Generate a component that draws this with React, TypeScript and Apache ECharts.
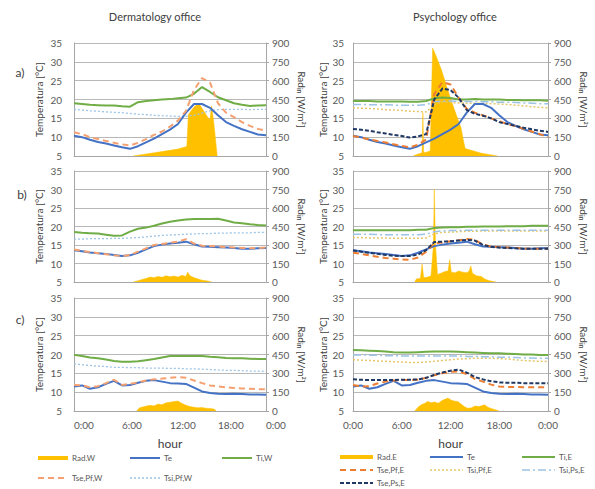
import React, { useEffect, useRef } from 'react';
import * as echarts from 'echarts';

// ---------- data ----------
const hours = [0, 1, 2, 3, 4, 5, 6, 7, 8, 9, 10, 11, 12, 13, 14, 15, 16, 17, 18, 19, 20, 21, 22, 23, 24];
const xTicks = ['0:00', '6:00', '12:00', '18:00', '0:00'];

// exterior temperature per row (same day for both offices)
const teA = [10.4, 10.0, 9.3, 8.7, 8.3, 7.8, 7.3, 6.9, 7.6, 8.6, 9.6, 10.8, 12.0, 13.5, 16.5, 18.8, 18.8, 17.8, 15.8, 14.0, 13.0, 12.1, 11.4, 10.7, 10.5];
const teB = [13.6, 13.3, 13.0, 12.8, 12.6, 12.3, 12.0, 12.2, 12.9, 13.8, 14.7, 15.1, 15.4, 15.6, 15.9, 15.2, 14.6, 14.5, 14.4, 14.3, 14.2, 14.0, 14.0, 14.1, 14.2];
const teC = [11.5, 11.8, 10.9, 11.3, 12.2, 13.0, 11.8, 11.9, 12.5, 13.0, 13.2, 12.8, 12.4, 12.3, 12.2, 11.2, 10.2, 9.8, 9.6, 9.5, 9.6, 9.5, 9.4, 9.4, 9.3];

// Dermatology office (W)
const tiWA = [19.0, 18.8, 18.6, 18.5, 18.4, 18.4, 18.2, 18.1, 19.3, 19.6, 19.8, 20.0, 20.1, 20.3, 20.5, 21.5, 23.3, 22.0, 20.6, 19.8, 19.0, 18.6, 18.3, 18.4, 18.5];
const tsePfWA = [11.3, 10.8, 10.0, 9.5, 9.0, 8.5, 8.1, 7.8, 8.5, 9.5, 10.6, 11.5, 12.8, 14.4, 17.0, 22.5, 25.7, 24.5, 19.0, 16.5, 15.3, 14.0, 13.0, 12.2, 11.7];
const tsiPfWA = [17.4, 17.2, 17.0, 16.9, 16.7, 16.6, 16.5, 16.3, 16.1, 16.0, 15.8, 15.7, 15.6, 15.5, 15.5, 15.8, 16.4, 17.0, 17.3, 17.4, 17.4, 17.4, 17.3, 17.4, 17.4];
const radWAHours = [7.4, 9, 11, 13, 14.1, 14.3, 15.0, 15.6, 16.2, 16.8, 17.0, 17.2, 17.5, 17.9];
const radWA = [0, 15, 35, 55, 76, 330, 390, 420, 360, 300, 290, 400, 250, 0];

const tiWB = [18.5, 18.3, 18.2, 18.1, 17.8, 17.5, 17.6, 18.6, 19.4, 19.7, 20.2, 20.8, 21.3, 21.6, 21.9, 22.0, 22.0, 22.0, 22.1, 21.6, 21.1, 20.9, 20.6, 20.4, 20.3];
const tsePfWB = [13.8, 13.4, 13.1, 12.8, 12.5, 12.2, 12.0, 12.3, 13.2, 14.1, 15.0, 15.3, 15.6, 15.9, 16.6, 15.4, 14.8, 14.7, 14.6, 14.4, 14.3, 14.2, 14.1, 14.2, 14.3];
const tsiPfWB = [16.6, 16.6, 16.7, 16.7, 16.7, 16.8, 16.8, 16.9, 17.0, 17.2, 17.4, 17.6, 17.7, 17.8, 17.9, 18.0, 18.1, 18.1, 18.2, 18.2, 18.3, 18.3, 18.3, 18.4, 18.4];
const radWBHours = [7.4, 8, 8.5, 9, 9.5, 10, 10.5, 11, 11.5, 12, 12.5, 13, 13.5, 14, 14.2, 14.5, 15, 15.5, 16, 16.5, 17, 17.2];
const radWB = [0, 10, 20, 28, 40, 35, 45, 38, 50, 42, 48, 40, 55, 45, 80, 50, 35, 25, 15, 10, 5, 0];

const tiWC = [19.9, 19.6, 19.2, 19.0, 18.7, 18.3, 18.1, 18.1, 18.2, 18.5, 18.8, 19.2, 19.6, 19.6, 19.6, 19.6, 19.6, 19.4, 19.3, 19.1, 19.0, 19.0, 18.9, 18.8, 18.8];
const tsePfWC = [11.9, 11.8, 11.3, 11.6, 12.4, 13.3, 11.9, 12.2, 12.6, 13.1, 13.4, 13.6, 13.8, 14.0, 13.8, 13.1, 12.4, 11.8, 11.5, 11.3, 11.1, 11.0, 10.9, 10.8, 10.8];
const tsiPfWC = [17.5, 17.3, 17.1, 16.9, 16.8, 16.6, 16.6, 16.5, 16.5, 16.4, 16.4, 16.4, 16.3, 16.3, 16.2, 16.2, 16.1, 16.0, 15.9, 15.8, 15.8, 15.7, 15.6, 15.6, 15.5];
const radWCHours = [7.8, 8.2, 8.8, 9.5, 10, 10.5, 11, 11.5, 12, 12.5, 13, 13.5, 14, 14.5, 15, 15.5, 16, 16.5, 17, 17.5, 17.8];
const radWC = [0, 25, 35, 45, 40, 55, 50, 65, 70, 75, 80, 60, 45, 35, 30, 25, 28, 22, 20, 15, 0];

// Psychology office (E)
const tiEA = [19.6, 19.6, 19.6, 19.5, 19.5, 19.5, 19.5, 19.4, 19.4, 19.6, 20.3, 20.5, 20.4, 20.0, 20.0, 20.1, 20.0, 20.0, 20.0, 19.9, 19.9, 19.8, 19.8, 19.8, 19.7];
const tsePfEA = [10.3, 9.9, 9.4, 9.0, 8.6, 8.1, 7.7, 7.3, 8.0, 9.4, 21.5, 24.6, 24.0, 20.5, 17.5, 16.5, 15.8, 15.0, 14.2, 13.5, 12.9, 12.2, 11.5, 10.8, 10.0];
const tsiPfEA = [17.8, 17.7, 17.6, 17.5, 17.3, 17.2, 17.1, 16.9, 16.8, 16.7, 18.6, 19.4, 19.2, 19.1, 19.0, 19.0, 19.0, 18.9, 18.8, 18.7, 18.5, 18.3, 18.1, 17.9, 17.8];
const tsiPsEA = [18.7, 18.7, 18.6, 18.6, 18.6, 18.5, 18.5, 18.5, 18.5, 18.6, 19.4, 19.6, 19.6, 19.5, 19.5, 19.5, 19.4, 19.4, 19.3, 19.3, 19.2, 19.1, 19.0, 18.9, 18.9];
const tsePsEA = [12.2, 12.0, 11.7, 11.3, 11.0, 10.6, 10.3, 9.9, 10.2, 10.8, 20.0, 22.9, 22.5, 20.5, 17.2, 16.2, 15.7, 15.0, 14.0, 13.5, 13.0, 12.5, 12.1, 11.7, 11.4];
const radEAHours = [7.4, 8.0, 8.5, 8.6, 8.7, 9.0, 9.5, 9.8, 10.2, 10.9, 11.5, 12.1, 12.7, 13.3, 13.6, 13.8, 15.8, 17.8];
const radEA = [0, 15, 25, 345, 25, 30, 40, 860, 800, 683, 560, 440, 330, 224, 120, 60, 22, 0];

const tiEB = [19.0, 19.0, 19.0, 19.0, 19.0, 19.0, 19.0, 19.0, 19.1, 19.1, 19.6, 19.7, 19.8, 19.8, 19.9, 19.9, 20.0, 20.0, 20.0, 20.1, 20.1, 20.1, 20.2, 20.2, 20.2];
const tsePfEB = [12.9, 12.6, 12.2, 11.8, 11.5, 11.3, 11.1, 11.0, 11.6, 13.2, 15.5, 15.7, 16.0, 16.3, 16.6, 16.4, 15.1, 14.6, 14.4, 14.3, 14.2, 14.1, 14.0, 14.0, 14.0];
const tsiPfEB = [17.0, 17.0, 16.9, 16.9, 16.9, 16.8, 16.8, 16.8, 16.8, 16.9, 18.0, 18.4, 18.5, 18.6, 18.7, 18.7, 18.8, 18.8, 18.8, 18.8, 18.8, 18.8, 18.8, 18.8, 18.8];
const tsiPsEB = [17.9, 17.9, 17.9, 17.8, 17.8, 17.8, 17.8, 17.8, 17.8, 17.9, 18.6, 18.8, 18.9, 18.9, 19.0, 19.0, 19.0, 19.0, 19.0, 19.0, 19.0, 19.0, 19.0, 19.0, 19.0];
const tsePsEB = [13.5, 13.2, 12.9, 12.6, 12.3, 12.1, 12.0, 12.0, 12.4, 13.6, 15.8, 15.9, 16.0, 16.2, 16.4, 16.2, 15.0, 14.5, 14.3, 14.2, 14.1, 14.0, 14.0, 14.0, 14.0];
const radEBHours = [7.6, 7.8, 8.3, 8.5, 8.7, 9.2, 9.6, 9.9, 10.0, 10.15, 10.4, 10.8, 11.3, 11.7, 11.9, 12.1, 12.6, 13, 13.5, 14, 14.3, 14.5, 14.7, 15.2, 15.8, 16.2, 16.8, 17.6];
const radEB = [0, 25, 30, 145, 35, 40, 50, 300, 752, 300, 60, 70, 85, 90, 180, 80, 75, 90, 80, 75, 90, 130, 70, 50, 45, 25, 10, 0];

const tiEC = [21.2, 21.1, 21.0, 20.9, 20.8, 20.6, 20.5, 20.5, 20.6, 20.7, 20.8, 20.8, 20.8, 20.7, 20.6, 20.5, 20.4, 20.3, 20.3, 20.2, 20.1, 20.0, 20.0, 19.9, 19.9];
const tsePfEC = [11.9, 11.5, 11.6, 12.3, 12.8, 13.1, 13.2, 13.2, 13.3, 13.8, 14.5, 15.0, 15.4, 15.5, 14.8, 13.5, 12.8, 12.0, 11.5, 11.4, 11.4, 11.3, 11.3, 11.3, 11.3];
const tsiPfEC = [18.6, 18.5, 18.4, 18.3, 18.2, 18.1, 18.0, 17.9, 17.9, 18.0, 18.2, 18.4, 18.6, 18.8, 18.9, 19.0, 19.0, 19.0, 18.9, 18.8, 18.6, 18.4, 18.3, 18.2, 18.1];
const tsiPsEC = [19.9, 19.9, 19.8, 19.8, 19.7, 19.7, 19.6, 19.6, 19.6, 19.6, 19.6, 19.6, 19.6, 19.6, 19.5, 19.5, 19.4, 19.4, 19.3, 19.3, 19.2, 19.1, 19.1, 19.0, 19.0];
const tsePsEC = [13.4, 13.3, 13.2, 13.2, 13.2, 13.2, 13.3, 13.3, 13.4, 13.8, 14.6, 15.2, 15.7, 16.0, 15.2, 14.0, 13.4, 12.9, 12.6, 12.5, 12.5, 12.4, 12.4, 12.4, 12.4];
const radECHours = [7.6, 8, 8.4, 8.8, 9.2, 9.6, 10, 10.5, 11, 11.4, 11.7, 12, 12.4, 12.9, 13.3, 13.7, 14.1, 14.6, 15, 15.5, 16, 16.2, 16.6, 17, 17.5, 18];
const radEC = [0, 30, 50, 60, 76, 65, 72, 62, 85, 95, 103, 90, 80, 76, 55, 35, 22, 25, 40, 35, 45, 49, 30, 20, 10, 0];

// legend entries: [name, style key]
const legendW = [['Rad.W', 'rad'], ['Te', 'te'], ['Ti,W', 'ti'], ['Tse,Pf,W', 'tsePfW'], ['Tsi,Pf,W', 'tsiPfW']];
const legendE = [['Rad.E', 'rad'], ['Te', 'te'], ['Ti,E', 'ti'], ['Tse,Pf,E', 'tsePfE'], ['Tsi,Pf,E', 'tsiPfE'], ['Tsi,Ps,E', 'tsiPs'], ['Tse,Ps,E', 'tsePs']];

// ---------- styles ----------
const FONT = 'Lato, "Open Sans", sans-serif';
const COL = {
  rad: '#FFC000', te: '#4472C4', ti: '#70AD47', tsePfW: '#F4A070', tsePfE: '#ED7D31',
  tsiPfW: '#9DC3E6', tsiPfE: '#E6C76A', tsiPs: '#9DC3E6', tsePs: '#203864',
};
const LS: Record<string, any> = {
  rad: { color: COL.rad, width: 4, type: 'solid' },
  te: { color: COL.te, width: 2, type: 'solid' },
  ti: { color: COL.ti, width: 2, type: 'solid' },
  tsePfW: { color: COL.tsePfW, width: 2, type: [6, 4] },
  tsePfE: { color: COL.tsePfE, width: 2, type: [6, 4] },
  tsiPfW: { color: COL.tsiPfW, width: 1.3, type: [2, 2] },
  tsiPfE: { color: COL.tsiPfE, width: 1.5, type: [2, 2] },
  tsiPs: { color: COL.tsiPs, width: 1.5, type: [8, 3, 2, 3] },
  tsePs: { color: COL.tsePs, width: 2, type: [4, 2] },
};

const gridLeft = [74, 353];
const gridWidth = [192, 195];
const rowTop = [43, 171, 298];
const rowHeight = [113, 111, 113];

function line(name: string, vals: number[], panel: number, style: any) {
  return {
    type: 'line', name, xAxisIndex: panel, yAxisIndex: panel * 2,
    data: vals.map((v, i) => [hours[i], v]), symbol: 'none', color: style.color,
    lineStyle: style, z: 3,
  };
}
function rad(name: string, hrs: number[], vals: number[], panel: number) {
  return {
    type: 'line', name, xAxisIndex: panel, yAxisIndex: panel * 2 + 1,
    data: vals.map((v, i) => [hrs[i], v]), symbol: 'none', color: COL.rad,
    lineStyle: { color: COL.rad, width: 0.5 }, areaStyle: { color: COL.rad, opacity: 1 }, z: 2,
  };
}

export default function App() {
  const ref = useRef<HTMLDivElement>(null);
  useEffect(() => {
    if (!ref.current) return;
    const chart = echarts.init(ref.current, null, { renderer: 'svg' });
    const grids: any[] = [];
    const xAxes: any[] = [];
    const yAxes: any[] = [];
    for (let r = 0; r < 3; r++) {
      for (let c = 0; c < 2; c++) {
        const p = r * 2 + c;
        grids.push({ left: gridLeft[c], width: gridWidth[c], top: rowTop[r], height: rowHeight[r] });
        const last = r === 2;
        xAxes.push({
          type: 'value', gridIndex: p, min: 0, max: 24, interval: 6,
          axisLine: { show: true, lineStyle: { color: '#a6a6a6' } },
          axisTick: { show: false }, splitLine: { show: false },
          axisLabel: {
            show: last, color: '#595959', fontSize: 10, fontFamily: FONT, margin: 9,
            align: c === 0 ? 'left' : 'center',
            formatter: (v: number) => xTicks[v / 6],
          },
          name: last ? 'hour' : '', nameLocation: 'middle', nameGap: 26,
          nameTextStyle: { color: '#404040', fontSize: 12, fontFamily: FONT },
        });
        yAxes.push({
          type: 'value', gridIndex: p, position: 'left', min: 5, max: 35, interval: 5,
          axisLine: { show: true, lineStyle: { color: '#a6a6a6' } },
          axisTick: { show: false },
          splitLine: { show: true, lineStyle: { color: '#b8b8b8', width: 1 } },
          axisLabel: { color: '#595959', fontSize: 10, fontFamily: FONT, margin: c === 0 ? 12 : 9 },
          name: 'Temperatura [°C]', nameLocation: 'middle', nameRotate: 90, nameGap: c === 0 ? 30 : 23,
          nameTextStyle: { color: '#404040', fontSize: 10, fontFamily: FONT },
        });
        yAxes.push({
          type: 'value', gridIndex: p, position: 'right', min: 0, max: 900, interval: 150,
          axisLine: { show: true, lineStyle: { color: '#a6a6a6' } },
          axisTick: { show: true, length: 3, lineStyle: { color: '#a6a6a6' } },
          splitLine: { show: false },
          axisLabel: { color: '#595959', fontSize: 10, fontFamily: FONT, margin: 6 },
          name: '{a|Rad}{s|in}{a| [W/m²]}', nameLocation: 'middle', nameRotate: -90, nameGap: 30,
          nameTextStyle: {
            color: '#404040', fontSize: 10, fontFamily: FONT,
            rich: {
              a: { fontSize: 10, fontFamily: FONT, color: '#404040', lineHeight: 12 },
              s: { fontSize: 7, fontFamily: FONT, color: '#404040', lineHeight: 12, verticalAlign: 'bottom' },
            },
          },
        });
      }
    }

    const series: any[] = [
      // row a
      rad('Rad.W', radWAHours, radWA, 0),
      line('Tsi,Pf,W', tsiPfWA, 0, LS.tsiPfW),
      line('Ti,W', tiWA, 0, LS.ti),
      line('Te', teA, 0, LS.te),
      line('Tse,Pf,W', tsePfWA, 0, LS.tsePfW),
      rad('Rad.E', radEAHours, radEA, 1),
      line('Ti,E', tiEA, 1, LS.ti),
      line('Tsi,Pf,E', tsiPfEA, 1, LS.tsiPfE),
      line('Tsi,Ps,E', tsiPsEA, 1, LS.tsiPs),
      line('Te', teA, 1, LS.te),
      line('Tse,Pf,E', tsePfEA, 1, LS.tsePfE),
      line('Tse,Ps,E', tsePsEA, 1, LS.tsePs),
      // row b
      rad('Rad.W', radWBHours, radWB, 2),
      line('Tsi,Pf,W', tsiPfWB, 2, LS.tsiPfW),
      line('Ti,W', tiWB, 2, LS.ti),
      line('Te', teB, 2, LS.te),
      line('Tse,Pf,W', tsePfWB, 2, LS.tsePfW),
      rad('Rad.E', radEBHours, radEB, 3),
      line('Ti,E', tiEB, 3, LS.ti),
      line('Tsi,Pf,E', tsiPfEB, 3, LS.tsiPfE),
      line('Tsi,Ps,E', tsiPsEB, 3, LS.tsiPs),
      line('Te', teB, 3, LS.te),
      line('Tse,Pf,E', tsePfEB, 3, LS.tsePfE),
      line('Tse,Ps,E', tsePsEB, 3, LS.tsePs),
      // row c
      rad('Rad.W', radWCHours, radWC, 4),
      line('Tsi,Pf,W', tsiPfWC, 4, LS.tsiPfW),
      line('Ti,W', tiWC, 4, LS.ti),
      line('Te', teC, 4, LS.te),
      line('Tse,Pf,W', tsePfWC, 4, LS.tsePfW),
      rad('Rad.E', radECHours, radEC, 5),
      line('Ti,E', tiEC, 5, LS.ti),
      line('Tsi,Pf,E', tsiPfEC, 5, LS.tsiPfE),
      line('Tsi,Ps,E', tsiPsEC, 5, LS.tsiPs),
      line('Te', teC, 5, LS.te),
      line('Tse,Pf,E', tsePfEC, 5, LS.tsePfE),
      line('Tse,Ps,E', tsePsEC, 5, LS.tsePs),
    ];

    const txt = (text: string, x: number, y: number, size: number, align = 'center', fill = '#404040') => ({
      type: 'text', x, y, silent: true,
      style: { text, fill, fontSize: size, fontFamily: FONT, textAlign: align, textVerticalAlign: 'middle' },
    });

    // custom legend (two blocks, three columns each)
    const legendGraphics: any[] = [];
    const addLegend = (entries: string[][], colX: number[], rowY: number[], symW: number) => {
      entries.forEach(([name, key], i) => {
        const cx = colX[i % 3];
        const cy = rowY[Math.floor(i / 3)];
        const s = LS[key];
        legendGraphics.push({
          type: 'line', silent: true,
          shape: { x1: cx, y1: cy, x2: cx + symW, y2: cy },
          style: { stroke: s.color, lineWidth: s.width, lineDash: Array.isArray(s.type) ? s.type : null },
        });
        legendGraphics.push(txt(name, cx + symW + 4, cy, 8, 'left', '#595959'));
      });
    };
    addLegend(legendW, [38, 130, 222], [458, 478], 30);
    addLegend(legendE, [340, 430, 522], [457, 470, 483], 33);

    chart.setOption({
      animation: false,
      backgroundColor: '#ffffff',
      grid: grids,
      xAxis: xAxes,
      yAxis: yAxes,
      series,
      graphic: [
        txt('Dermatology office', 155, 16, 11),
        txt('Psychology office', 455, 16, 11),
        txt('a)', 20, 72, 12),
        txt('b)', 22, 194, 12),
        txt('c)', 20, 319, 12),
        ...legendGraphics,
      ],
    });
    return () => chart.dispose();
  }, []);
  return <div ref={ref} style={{ position: 'absolute', left: 0, top: 0, width: 595, height: 489 }} />;
}
